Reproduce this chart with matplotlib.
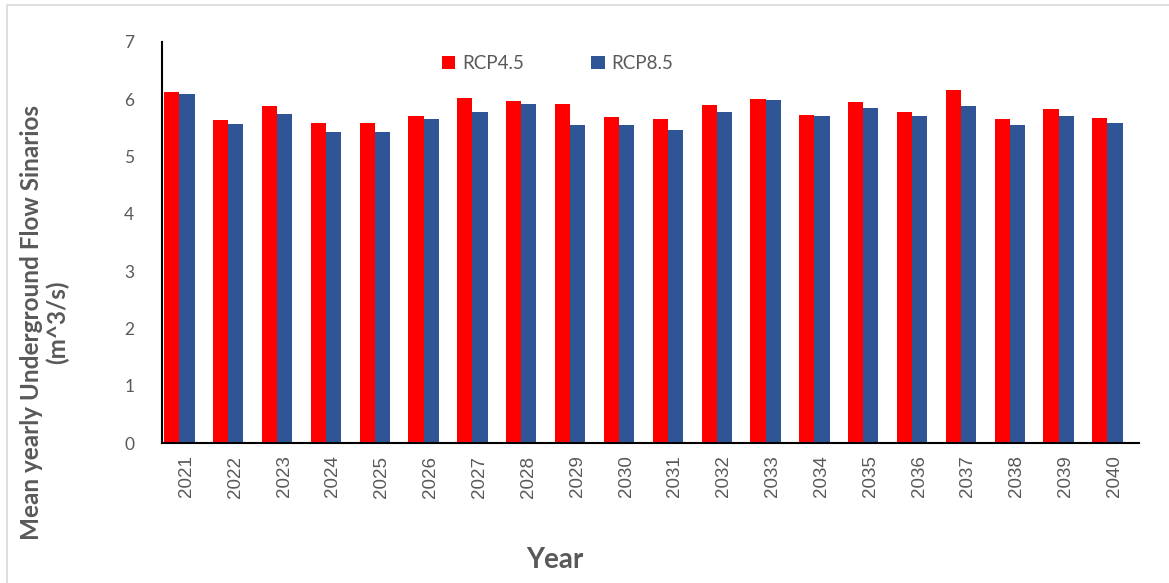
import numpy as np
from matplotlib import pyplot as plt
from matplotlib.patches import Rectangle

# Mean yearly underground flow under the two scenarios (m^3/s)
years = [str(y) for y in range(2021, 2041)]
rcp45 = [6.12, 5.63, 5.88, 5.58, 5.58, 5.71, 6.03, 5.97, 5.92, 5.69,
         5.65, 5.90, 6.00, 5.73, 5.96, 5.77, 6.16, 5.65, 5.83, 5.68]
rcp85 = [6.10, 5.57, 5.74, 5.42, 5.42, 5.66, 5.78, 5.91, 5.55, 5.55,
         5.46, 5.78, 5.98, 5.71, 5.84, 5.71, 5.88, 5.55, 5.71, 5.58]

grey = '#595959'
fig = plt.figure(figsize=(11.69, 5.83), dpi=100)
ax = fig.add_axes([0.1386, 0.2401, 0.8357, 0.6879])

x = np.arange(len(years))
w = 0.31
ax.bar(x - 0.30, rcp45, width=w, color='#FF0000', label='RCP4.5')
ax.bar(x + 0.01, rcp85, width=w, color='#2F5597', label='RCP8.5')

ax.set_xlim(-0.5, len(years) - 0.5)
ax.set_ylim(0, 7)
ax.set_yticks(range(8))
ax.set_xticks(x)
ax.set_xticklabels(years, rotation=90, family='Liberation Sans', fontsize=13.5, color=grey)
for lab in ax.get_yticklabels():
    lab.set_family('Lato')
    lab.set_fontsize(12.5)
    lab.set_color(grey)
ax.tick_params(axis='y', length=0, pad=20)
ax.tick_params(axis='x', length=0, pad=9)
for s in ['top', 'right']:
    ax.spines[s].set_visible(False)
for s in ['left', 'bottom']:
    ax.spines[s].set_color('black')
    ax.spines[s].set_linewidth(1.5)

leg = ax.legend(loc='upper center', bbox_to_anchor=(0.405, 1.01), ncol=2, frameon=False,
                handlelength=0.7, handleheight=0.7, columnspacing=3.6, handletextpad=0.35,
                prop={'family': 'Lato', 'size': 13.5})
for t in leg.get_texts():
    t.set_color(grey)

fig.text(0.027, 0.447, 'Mean yearly Underground Flow Sinarios', rotation=90, ha='center', va='center',
         family='Lato', weight='bold', fontsize=17.5, color=grey)
fig.text(0.049, 0.447, '(m^3/s)', rotation=90, ha='center', va='center',
         family='Lato', weight='bold', fontsize=17.5, color=grey)
fig.text(0.475, 0.04, 'Year', ha='center', va='center',
         family='Lato', weight='bold', fontsize=20, color=grey)

# thin frame around the figure
fig.patches.append(Rectangle((0.006, -0.05), 1.1, 1.041, transform=fig.transFigure,
                             fill=False, edgecolor='#D9D9D9', linewidth=1.2))

fig.savefig('out.png', dpi=100)
